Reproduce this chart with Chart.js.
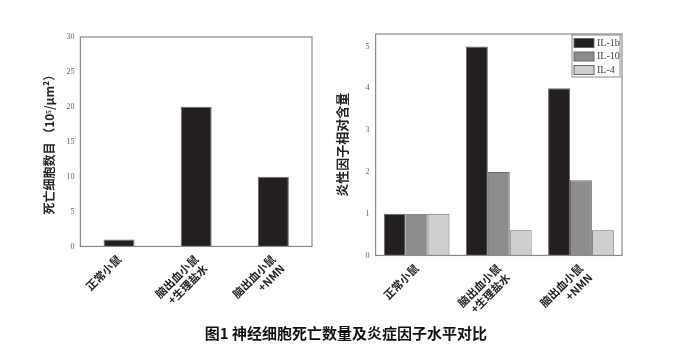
<!DOCTYPE html>
<html>
<head>
<meta charset="utf-8">
<script src="https://cdn.jsdelivr.net/npm/chart.js@4"></script>
<style>
  body { margin: 0; background: #fff; width: 692px; height: 352px; position: relative; overflow: hidden; }
  #left { position: absolute; left: 0; top: 0; width: 340px; height: 316px; }
  #right { position: absolute; left: 316px; top: 0; width: 376px; height: 325px; }
  #caption { position: absolute; left: 0; top: 322px; width: 692px; text-align: center;
    font: bold 15px "Noto Sans CJK SC", sans-serif; color: #111; }
</style>
</head>
<body>
<div id="left"><canvas id="deathChart"></canvas></div>
<div id="right"><canvas id="cytoChart"></canvas></div>
<div id="caption">图1 神经细胞死亡数量及炎症因子水平对比</div>
<script>
const groups = ["正常小鼠", ["脑出血小鼠", "+生理盐水"], ["脑出血小鼠", "+NMN"]];
const deadCells = [1, 20, 10];
const il1b = [1, 5, 4];
const il10 = [1, 2, 1.8];
const il4 = [1, 0.6, 0.6];
const cytoNames = ["IL-1b", "IL-10", "IL-4"];

const tickFont = { family: "Liberation Serif", size: 8 };
const labelFont = { family: "Noto Sans CJK SC", size: 11, weight: "bold" };
const titleFont = { family: "Noto Sans CJK SC", size: 12, weight: "bold" };

// box round the plot area
const frame = {
  id: "frame",
  afterDraw(chart) {
    const a = chart.chartArea, ctx = chart.ctx;
    ctx.save();
    ctx.strokeStyle = "#8a8a8a";
    ctx.lineWidth = 1.2;
    ctx.strokeRect(a.left, a.top, a.right - a.left, a.bottom - a.top);
    ctx.restore();
  }
};

// legend drawn inside the plot, top right
const boxLegend = {
  id: "boxLegend",
  afterDraw(chart) {
    const a = chart.chartArea, ctx = chart.ctx;
    const w = 48, h = 42;
    const x = a.right - w - 2, y = a.top + 1;
    ctx.save();
    ctx.fillStyle = "#fff";
    ctx.fillRect(x, y, w, h);
    ctx.strokeStyle = "#8a8a8a";
    ctx.lineWidth = 1;
    ctx.strokeRect(x, y, w, h);
    ctx.font = "10px 'Liberation Serif'";
    ctx.textBaseline = "middle";
    chart.data.datasets.forEach((ds, i) => {
      const cy = y + 8 + i * 13.5;
      ctx.fillStyle = ds.backgroundColor;
      ctx.fillRect(x + 2, cy - 4.5, 20, 9);
      ctx.strokeStyle = "#666";
      ctx.strokeRect(x + 2, cy - 4.5, 20, 9);
      ctx.fillStyle = "#444";
      ctx.fillText(ds.label, x + 25, cy);
    });
    ctx.restore();
  }
};

function xAxis() {
  return {
    grid: { display: false, drawTicks: false },
    border: { display: false },
    ticks: { color: "#222", font: labelFont, maxRotation: 45, minRotation: 45, padding: 6 }
  };
}

new Chart(document.getElementById("deathChart"), {
  type: "bar",
  data: {
    labels: groups,
    datasets: [{
      data: deadCells,
      backgroundColor: "#231f20",
      borderColor: "#6a6a6a",
      borderWidth: 1,
      categoryPercentage: 1,
      barPercentage: 0.4
    }]
  },
  options: {
    responsive: true,
    maintainAspectRatio: false,
    animation: false,
    layout: { padding: { left: 38, right: 28, top: 37, bottom: 0 } },
    plugins: { legend: { display: false }, tooltip: { enabled: false } },
    scales: {
      x: xAxis(),
      y: {
        min: 0, max: 30,
        grid: { display: false, drawTicks: false },
        border: { display: false },
        ticks: { stepSize: 5, color: "#666", font: tickFont, padding: 6 },
        title: { display: true, text: "死亡细胞数目 （10⁵/μm²）", color: "#222", font: titleFont, padding: { bottom: 4 } }
      }
    }
  },
  plugins: [frame]
});

new Chart(document.getElementById("cytoChart"), {
  type: "bar",
  data: {
    labels: groups,
    datasets: [
      { label: cytoNames[0], data: il1b, backgroundColor: "#231f20" },
      { label: cytoNames[1], data: il10, backgroundColor: "#8d8d8f" },
      { label: cytoNames[2], data: il4, backgroundColor: "#cfcfd0" }
    ].map(d => Object.assign(d, { borderColor: "#6a6a6a", borderWidth: 1, categoryPercentage: 0.8, barPercentage: 1 }))
  },
  options: {
    responsive: true,
    maintainAspectRatio: false,
    animation: false,
    layout: { padding: { left: 14, right: 70, top: 34, bottom: 0 } },
    plugins: { legend: { display: false }, tooltip: { enabled: false } },
    scales: {
      x: xAxis(),
      y: {
        min: 0, max: 5.3,
        afterBuildTicks(axis) { axis.ticks = [0, 1, 2, 3, 4, 5].map(v => ({ value: v })); },
        grid: { display: false, drawTicks: false },
        border: { display: false },
        ticks: { color: "#666", font: tickFont, padding: 6 },
        title: { display: true, text: "炎性因子相对含量", color: "#222", font: { family: "Noto Sans CJK SC", size: 13, weight: "bold" }, padding: { bottom: 10 } }
      }
    }
  },
  plugins: [frame, boxLegend]
});
</script>
</body>
</html>
